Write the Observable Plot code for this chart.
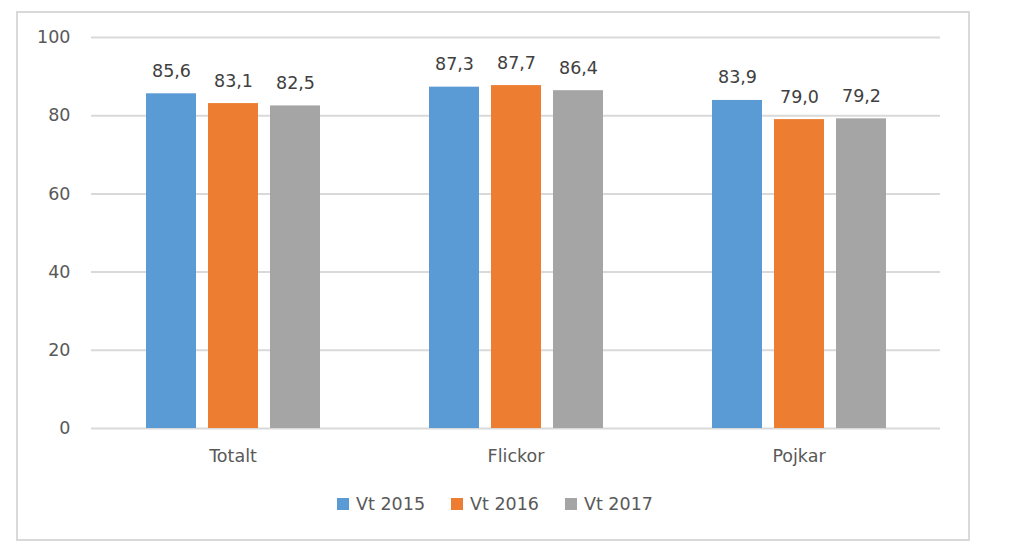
<!DOCTYPE html>
<html>
<head>
<meta charset="utf-8">
<script src="https://cdn.jsdelivr.net/npm/d3@7"></script>
<script src="https://cdn.jsdelivr.net/npm/@observablehq/plot@0.6"></script>
<style>
  body { margin: 0; background: #fff; font-family: "DejaVu Sans", sans-serif; }
  #frame { position: absolute; left: 16px; top: 11px; width: 950px; height: 526px; border: 2px solid #d9d9d9; }
  #chart { position: absolute; left: 0; top: 0; }
  #legend { position: absolute; left: 0; top: 494px; width: 990px; display: flex; justify-content: center; gap: 26px; font-size: 17.5px; color: #595959; }
  .item { display: flex; align-items: center; gap: 7px; }
  .sw { width: 12px; height: 12px; display: inline-block; }
</style>
</head>
<body>
<div id="frame"></div>
<div id="chart"></div>
<div id="legend"></div>
<script>
const categories = ["Totalt", "Flickor", "Pojkar"];
const series = ["Vt 2015", "Vt 2016", "Vt 2017"];
const colors = ["#5B9BD5", "#ED7D31", "#A5A5A5"];
const vt2015 = [85.6, 87.3, 83.9];
const vt2016 = [83.1, 87.7, 79.0];
const vt2017 = [82.5, 86.4, 79.2];
const yTicks = [0, 20, 40, 60, 80, 100];

const seriesValues = [vt2015, vt2016, vt2017];
const data = [];
categories.forEach((c, i) => series.forEach((s, j) => data.push({cat: c, ser: s, val: seriesValues[j][i]})));

const fmt = v => v.toFixed(1).replace(".", ",");

const plot = Plot.plot({
  width: 1024,
  height: 470,
  marginLeft: 90,
  marginRight: 83,
  marginTop: 37,
  marginBottom: 42,
  style: { fontFamily: "DejaVu Sans, sans-serif", fontSize: "17.5px", color: "#595959", background: "transparent" },
  fx: { domain: categories, padding: 0, label: null, axis: "bottom", tickSize: 0, tickPadding: 21 },
  x: { domain: series, paddingInner: 0.2, paddingOuter: 0.864, axis: null },
  y: { domain: [0, 100], ticks: yTicks, label: null, tickSize: 0, tickPadding: 21, tickFormat: d => d },
  color: { domain: series, range: colors },
  marks: [
    Plot.ruleY(yTicks, { stroke: "#d9d9d9", strokeWidth: 2, strokeOpacity: 1 }),
    Plot.barY(data, { fx: "cat", x: "ser", y: "val", fill: "ser" }),
    Plot.text(data, { fx: "cat", x: "ser", y: "val", text: d => fmt(d.val), lineAnchor: "bottom", dy: -17, fill: "#404040", fontSize: 17.5 })
  ]
});
document.getElementById("chart").appendChild(plot);

const legend = document.getElementById("legend");
series.forEach((s, i) => {
  const it = document.createElement("div");
  it.className = "item";
  it.innerHTML = `<span class="sw" style="background:${colors[i]}"></span><span>${s}</span>`;
  legend.appendChild(it);
});
</script>
</body>
</html>
